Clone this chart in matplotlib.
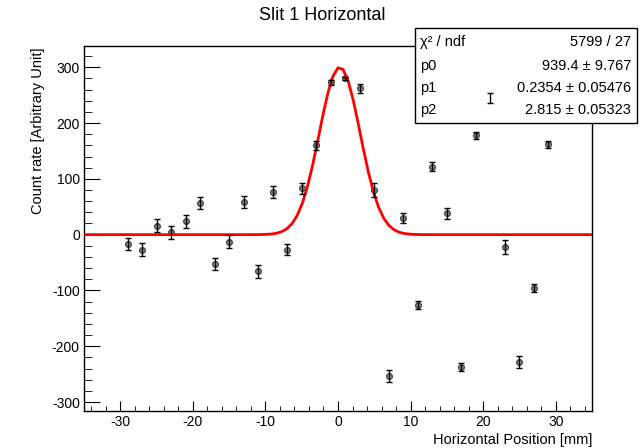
import numpy as np
import matplotlib.pyplot as plt
from matplotlib.patches import Rectangle
from matplotlib.ticker import MultipleLocator

plt.rcParams['font.family'] = ['Liberation Sans', 'DejaVu Sans']
plt.rcParams['axes.unicode_minus'] = False

# data points
x_pos = [-29, -27, -25, -23, -21, -19, -17, -15, -13, -11, -9, -7, -5, -3, -1,
         1, 3, 5, 7, 9, 11, 13, 15, 17, 19, 21, 23, 25, 27, 29]
counts = [-16.5, -27, 16, 4, 24, 57, -52, -13, 59, -66, 77, -27, 83, 160, 273,
          280, 262, 80, -253, 30, -126, 122, 38, -237, 178, 244, -22, -228, -96, 162]
errors = [11, 12, 11.5, 11.5, 12, 11, 11, 11.5, 11, 11, 10.5, 9.5, 10, 8, 4.5,
          3, 8, 12, 11, 9, 6.5, 7.5, 9.5, 6.5, 6, 9, 13, 11, 7, 6]

# fit parameters
peak = 300
p1 = 0.2354
p2 = 2.815
stat_names = ["χ² / ndf", "p0", "p1", "p2"]
stat_values = ["5799 / 27", "939.4 ± 9.767", "0.2354 ± 0.05476", "2.815 ± 0.05323"]

fig = plt.figure(figsize=(6.4, 4.48), dpi=100)
ax = fig.add_axes([84/640, 1-411/448, 508/640, 365/448])

# fit curve
xf = np.linspace(-35, 35, 101)
yf = peak*np.exp(-0.5*((xf-p1)/p2)**2)
ax.plot(xf, yf, color='red', lw=2, zorder=4)

# points and error bars
ax.plot(x_pos, counts, 'o', ms=4.2, mfc='#8a8a8a', mec='#3a3a3a', mew=0.8, zorder=3)
ax.errorbar(x_pos, counts, yerr=errors, fmt='none', ecolor='black', elinewidth=1,
            capsize=2, capthick=1, zorder=8)

ax.set_xlim(-35, 35)
ax.set_ylim(-316, 338)
ax.xaxis.set_major_locator(MultipleLocator(10))
ax.xaxis.set_minor_locator(MultipleLocator(2))
ax.yaxis.set_major_locator(MultipleLocator(100))
ax.yaxis.set_minor_locator(MultipleLocator(20))
ax.tick_params(axis='both', which='both', direction='in', labelsize=10)
ax.tick_params(axis='y', which='major', length=11.5, pad=3)
ax.tick_params(axis='y', which='minor', length=6)
ax.tick_params(axis='x', which='major', length=7.5, pad=3)
ax.tick_params(axis='x', which='minor', length=3.6)
for s in ax.spines.values():
    s.set_linewidth(1)

# titles
fig.text(322/640, 1-15/448, "Slit 1 Horizontal", ha='center', va='center', fontsize=13)
fig.text(592/640, 1-444/448, "Horizontal Position [mm]", ha='right', va='baseline', fontsize=10.5)
fig.text(38/640, 1-47/448, "Count rate [Arbitrary Unit]", ha='center', va='top',
         rotation=90, fontsize=10.5)

# stats box
box = Rectangle((415/640, 1-123/448), 222/640, 95/448, transform=fig.transFigure,
                facecolor='white', edgecolor='black', lw=1, clip_on=False, zorder=6)
ax.add_artist(box)
rows_y = [42, 66, 88, 110]
for name, val, yy in zip(stat_names, stat_values, rows_y):
    ax.text(420/640, 1-yy/448, name, transform=fig.transFigure, ha='left', va='center',
            fontsize=10.5, zorder=7)
    ax.text(631/640, 1-yy/448, val, transform=fig.transFigure, ha='right', va='center',
            fontsize=10.5, zorder=7)

plt.savefig("out.png", dpi=100)
